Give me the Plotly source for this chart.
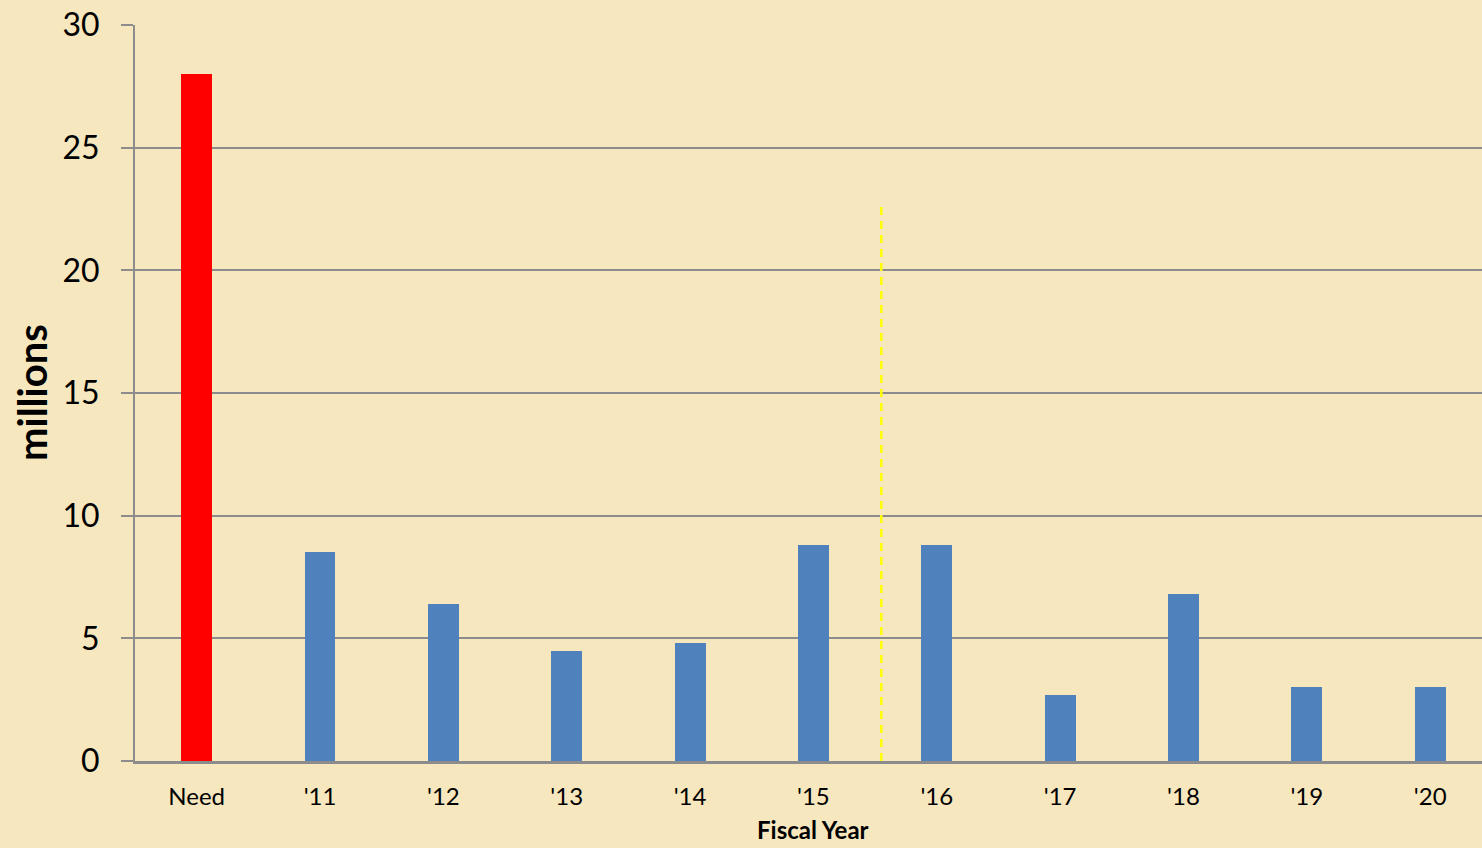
import plotly.graph_objects as go

categories = ["Need", "'11", "'12", "'13", "'14", "'15", "'16", "'17", "'18", "'19", "'20"]
values = [28.0, 8.5, 6.4, 4.5, 4.8, 8.8, 8.8, 2.7, 6.8, 3.0, 3.0]
bar_colors = ["#FF0000"] + ["#4F81BD"] * 10
y_ticks = [0, 5, 10, 15, 20, 25, 30]
divider_x = 5.55
divider_top = 22.75

BG = "#F6E7BE"
GRID = "#8C8C8C"
FONT = "Lato"

fig = go.Figure()
fig.add_trace(go.Bar(
    x=categories, y=values, marker=dict(color=bar_colors, line=dict(width=0)),
    width=0.25, showlegend=False, hoverinfo="x+y",
))

fig.add_shape(type="line", xref="x", yref="y", x0=divider_x, x1=divider_x,
              y0=0, y1=divider_top, line=dict(color="#FFFF00", width=2.5, dash="8px,6px"),
              layer="above")

fig.update_layout(
    width=1482, height=848,
    margin=dict(l=135, r=0, t=25, b=87),
    paper_bgcolor=BG, plot_bgcolor=BG,
    font=dict(family=FONT, color="#000000"),
    bargap=0,
)
fig.update_xaxes(
    type="category", range=[-0.5, 10.42],
    showline=True, linecolor=GRID, linewidth=3,
    showgrid=False, ticks="", tickfont=dict(size=24, family=FONT),
    ticklabelstandoff=12, fixedrange=True,
)
fig.update_yaxes(
    range=[0, 30], tickvals=y_ticks, ticktext=[str(v) for v in y_ticks],
    showline=True, linecolor=GRID, linewidth=2,
    showgrid=True, gridcolor=GRID, gridwidth=2,
    ticks="outside", ticklen=12, tickcolor=GRID, tickwidth=2,
    tickfont=dict(size=32, family=FONT), ticklabelstandoff=15,
    zeroline=False, fixedrange=True,
)

fig.add_annotation(text="<b>millions</b>", textangle=-90, xref="paper", yref="paper",
                   x=0, y=0.5, xanchor="center", yanchor="middle", xshift=-103,
                   showarrow=False, font=dict(size=40, family=FONT, color="#000000"))
fig.add_annotation(text="<b>Fiscal Year</b>", xref="paper", yref="paper",
                   x=(813 - 135) / 1347, y=0, xanchor="center", yanchor="top", yshift=-52,
                   showarrow=False, font=dict(size=24, family=FONT, color="#000000"))

fig.write_html("out.html", config={"displayModeBar": False},
               post_script="document.body.style.margin='0';document.body.style.background='" + BG + "';")
